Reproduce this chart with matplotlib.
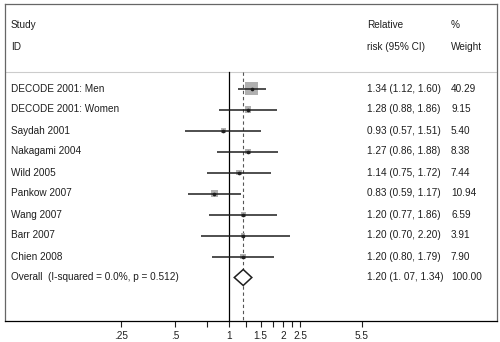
import numpy as np
import matplotlib.pyplot as plt
from matplotlib.transforms import blended_transform_factory
from matplotlib.patches import Polygon

plt.rcParams['font.family'] = ['Liberation Sans', 'DejaVu Sans']

studies = ["DECODE 2001: Men", "DECODE 2001: Women", "Saydah 2001", "Nakagami 2004",
           "Wild 2005", "Pankow 2007", "Wang 2007", "Barr 2007", "Chien 2008"]
rr = [1.34, 1.28, 0.93, 1.27, 1.14, 0.83, 1.20, 1.20, 1.20]
lo = [1.12, 0.88, 0.57, 0.86, 0.75, 0.59, 0.77, 0.70, 0.80]
hi = [1.60, 1.86, 1.51, 1.88, 1.72, 1.17, 1.86, 2.20, 1.79]
weight = [40.29, 9.15, 5.40, 8.38, 7.44, 10.94, 6.59, 3.91, 7.90]
rr_text = ["1.34 (1.12, 1.60)", "1.28 (0.88, 1.86)", "0.93 (0.57, 1.51)", "1.27 (0.86, 1.88)",
           "1.14 (0.75, 1.72)", "0.83 (0.59, 1.17)", "1.20 (0.77, 1.86)", "1.20 (0.70, 2.20)",
           "1.20 (0.80, 1.79)"]
overall_label = "Overall  (I-squared = 0.0%, p = 0.512)"
overall = (1.20, 1.07, 1.34)
overall_text = "1.20 (1. 07, 1.34)"
overall_weight = "100.00"
xticks = [0.25, 0.5, 1, 1.5, 2, 2.5, 5.5]
xticklabels = [".25", ".5", "1", "1.5", "2", "2.5", "5.5"]
minor_ticks = [0.75, 1.25, 1.75, 2.25]

W, H = 500, 342
fig = plt.figure(figsize=(5.0, 3.42), dpi=100)
ax = fig.add_axes([5 / W, (H - 321) / H, 492 / W, 317 / H])

# log scale: 1 at px 229, 78 px per ln unit
ax.set_xscale('log')
ax.set_xlim(np.exp((5 - 229) / 78), np.exp((497 - 229) / 78))
ax.set_ylim((321 - 88.5) / 21, (4 - 88.5) / 21)

ink = '#1e1e1e'
n = len(studies)
rows = np.arange(n)
top = (72 - 88.5) / 21
bottom = ax.get_ylim()[0]

ax.axhline(top, color='#cccccc', lw=0.8)
ax.plot([1, 1], [top, bottom], color='black', lw=0.9)
ax.plot([overall[0]] * 2, [top, bottom], color='#555555', lw=0.8, ls=(0, (3, 2.5)))

ax.hlines(rows, lo, hi, color=ink, lw=1.1, zorder=3)
ax.scatter(rr, rows, s=np.array(weight) * 2.2, marker='s', color='#b0b0b0', lw=0, zorder=2)
ax.scatter(rr, rows, s=7, marker='o', color=ink, lw=0, zorder=4)

m, l, h = overall
d = 0.38
ax.add_patch(Polygon([(l, n), (m, n - d), (h, n), (m, n + d)], closed=True,
                     facecolor='white', edgecolor=ink, lw=1.1, zorder=3))

tr = blended_transform_factory(ax.transAxes, ax.transData)
fs = 7.2
x_study, x_rr, x_w = 6 / 492, 362 / 492, 446 / 492
ax.text(x_study, (25 - 88.5) / 21, "Study", transform=tr, fontsize=fs, color=ink, va='center')
ax.text(x_study, (47 - 88.5) / 21, "ID", transform=tr, fontsize=fs, color=ink, va='center')
ax.text(x_rr, (25 - 88.5) / 21, "Relative", transform=tr, fontsize=fs, color=ink, va='center')
ax.text(x_rr, (47 - 88.5) / 21, "risk (95% CI)", transform=tr, fontsize=fs, color=ink, va='center')
ax.text(x_w, (25 - 88.5) / 21, "%", transform=tr, fontsize=fs, color=ink, va='center')
ax.text(x_w, (47 - 88.5) / 21, "Weight", transform=tr, fontsize=fs, color=ink, va='center')

for i in range(n):
    ax.text(x_study, i, studies[i], transform=tr, fontsize=fs, color=ink, va='center')
    ax.text(x_rr, i, rr_text[i], transform=tr, fontsize=fs, color=ink, va='center')
    ax.text(x_w, i, f"{weight[i]:.2f}", transform=tr, fontsize=fs, color=ink, va='center')
ax.text(x_study, n, overall_label, transform=tr, fontsize=fs, color=ink, va='center')
ax.text(x_rr, n, overall_text, transform=tr, fontsize=fs, color=ink, va='center')
ax.text(x_w, n, overall_weight, transform=tr, fontsize=fs, color=ink, va='center')

ax.set_xticks(xticks)
ax.set_xticklabels(xticklabels)
ax.set_xticks(minor_ticks, minor=True)
ax.xaxis.set_minor_formatter(plt.NullFormatter())
ax.tick_params(axis='x', which='both', direction='out', length=4, width=0.8,
               labelsize=fs, colors=ink, pad=3)
ax.set_yticks([])
ax.tick_params(axis='y', which='both', left=False, right=False)

for s in ['left', 'right', 'top']:
    ax.spines[s].set_color('#666666')
    ax.spines[s].set_linewidth(0.9)
ax.spines['bottom'].set_color('black')
ax.spines['bottom'].set_linewidth(0.9)

fig.savefig('out.png', dpi=100)
